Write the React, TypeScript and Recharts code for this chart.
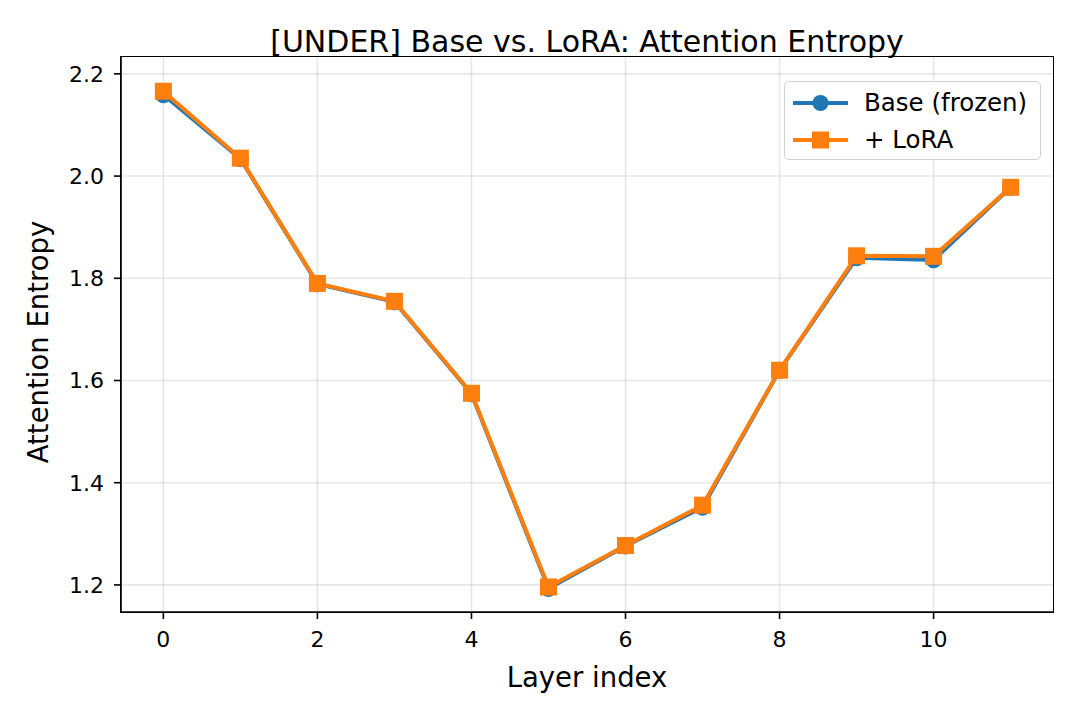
import { LineChart, Line, XAxis, YAxis, CartesianGrid } from 'recharts'

// ── Data ───────────────────────────────────────────────────────

const layers = [0, 1, 2, 3, 4, 5, 6, 7, 8, 9, 10, 11]
const baseEntropy = [2.159, 2.034, 1.789, 1.754, 1.574, 1.193, 1.276, 1.352, 1.620, 1.840, 1.836, 1.978]
const loraEntropy = [2.166, 2.035, 1.790, 1.755, 1.575, 1.196, 1.277, 1.356, 1.620, 1.844, 1.843, 1.978]

const xTicks = [0, 2, 4, 6, 8, 10]
const yTicks = [1.2, 1.4, 1.6, 1.8, 2.0, 2.2]

const BLUE = '#1f77b4'
const ORANGE = '#ff7f0e'
const FONT = "'DejaVu Sans', sans-serif"

const data = layers.map((layer, i) => ({ layer, base: baseEntropy[i], lora: loraEntropy[i] }))

// plot box (matches the margins below)
const PLOT = { left: 121, top: 57, right: 1053, bottom: 612 }

// ── Markers / legend ───────────────────────────────────────────

function CircleDot(p: any) {
  if (p.cx == null || p.cy == null) return null
  return <circle key={`c${p.index}`} cx={p.cx} cy={p.cy} r={8} fill={BLUE} stroke={BLUE} strokeWidth={1} />
}

function SquareDot(p: any) {
  if (p.cx == null || p.cy == null) return null
  return <rect key={`s${p.index}`} x={p.cx - 8.5} y={p.cy - 8.5} width={17} height={17} fill={ORANGE} />
}

function LegendBox() {
  const rows = [
    { label: 'Base (frozen)', color: BLUE, square: false },
    { label: '+ LoRA', color: ORANGE, square: true },
  ]
  return (
    <div style={{
      position: 'absolute', left: 784, top: 81, width: 257, height: 79,
      border: '1.5px solid #d0d0d0', borderRadius: 5,
      background: 'rgba(255,255,255,0.85)', fontFamily: FONT, fontSize: 24.5, color: '#000',
      boxSizing: 'border-box', paddingTop: 2,
    }}>
      {rows.map((r) => (
        <div key={r.label} style={{ display: 'flex', alignItems: 'center', height: 37, lineHeight: '37px' }}>
          <svg width={73} height={20} style={{ marginLeft: 6, flex: 'none' }}>
            <line x1={2} y1={10} x2={57} y2={10} stroke={r.color} strokeWidth={4} />
            {r.square
              ? <rect x={21} y={1.5} width={17} height={17} fill={r.color} />
              : <circle cx={29.5} cy={10} r={8} fill={r.color} />}
          </svg>
          <span style={{ whiteSpace: 'nowrap' }}>{r.label}</span>
        </div>
      ))}
    </div>
  )
}

// ── Chart ──────────────────────────────────────────────────────

export default function App() {
  const axisStroke = { stroke: '#000', strokeWidth: 1.6 }
  const tickStyle = { fill: '#000', fontSize: 22, fontFamily: FONT }
  return (
    <div style={{ position: 'absolute', left: 0, top: 0, width: 1080, height: 720, background: '#fff' }}>
      <div style={{
        position: 'absolute', left: PLOT.left, width: PLOT.right - PLOT.left, top: 23, textAlign: 'center',
        fontFamily: FONT, fontSize: 30, color: '#000', lineHeight: '38px', whiteSpace: 'nowrap',
      }}>
        [UNDER] Base vs. LoRA: Attention Entropy
      </div>
      <LineChart width={1080} height={720} data={data}
        margin={{ top: PLOT.top, right: 1080 - PLOT.right, bottom: 0, left: 0 }}>
        <CartesianGrid stroke="#b0b0b0" strokeOpacity={0.3} strokeWidth={1.6}
          verticalValues={xTicks} horizontalValues={yTicks} />
        <XAxis dataKey="layer" type="number" domain={[-0.55, 11.55]} ticks={xTicks}
          allowDataOverflow interval={0} tickSize={7} axisLine={axisStroke} tickLine={axisStroke}
          tick={tickStyle} tickMargin={12} height={720 - PLOT.bottom}
          label={{
            content: () => (
              <text x={587} y={687} textAnchor="middle" fontSize={27.5} fontFamily={FONT} fill="#000">Layer index</text>
            ),
          }} />
        <YAxis type="number" domain={[1.147, 2.233]} ticks={yTicks} allowDataOverflow interval={0}
          tickFormatter={(v: number) => v.toFixed(1)} tickSize={7} axisLine={axisStroke} tickLine={axisStroke}
          tick={tickStyle} tickMargin={10} width={PLOT.left}
          label={{
            content: () => (
              <text x={48} y={342} transform="rotate(-90 48 342)" textAnchor="middle" fontSize={27.5}
                fontFamily={FONT} fill="#000">Attention Entropy</text>
            ),
          }} />
        <Line type="linear" dataKey="base" stroke={BLUE} strokeWidth={4} dot={CircleDot}
          activeDot={false} isAnimationActive={false} />
        <Line type="linear" dataKey="lora" stroke={ORANGE} strokeWidth={4} dot={SquareDot}
          activeDot={false} isAnimationActive={false} />
      </LineChart>
      <div style={{
        position: 'absolute', left: PLOT.left - 0.8, top: PLOT.top - 0.8,
        width: PLOT.right - PLOT.left, height: PLOT.bottom - PLOT.top,
        border: '1.6px solid #000', pointerEvents: 'none',
      }} />
      <LegendBox />
    </div>
  )
}
